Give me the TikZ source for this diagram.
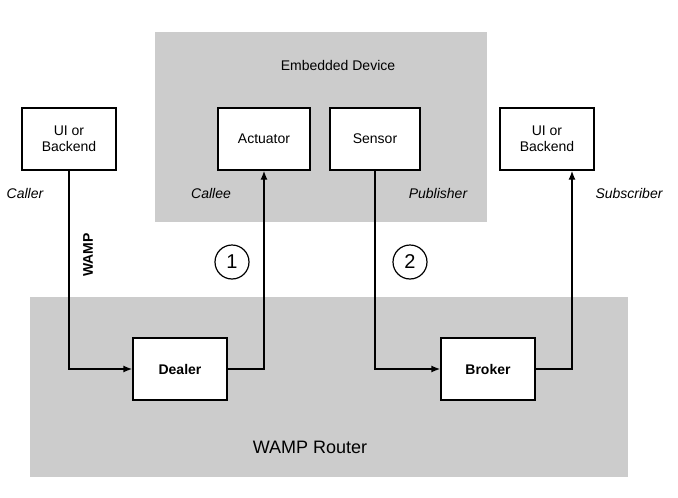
\documentclass[tikz,border=0pt]{standalone}
\usepackage{fontspec}
\setmainfont{Liberation Sans}
\usetikzlibrary{arrows.meta}
\begin{document}
\begin{tikzpicture}[x=1pt,y=-1pt,
 box/.style={draw=black,line width=1.4pt,fill=white,minimum width=94pt,minimum height=62pt,inner sep=0pt,align=center,font=\fontsize{14}{16}\selectfont},
 area/.style={fill=black!20,draw=none},
 role/.style={font=\itshape\fontsize{14}{16}\selectfont},
 num/.style={draw=black,line width=1.2pt,circle,minimum size=34pt,inner sep=0pt,font=\fontsize{20}{22}\selectfont},
 conn/.style={line width=1.4pt,-{Latex[length=9pt,width=7pt]}}]
\useasboundingbox (0,0) rectangle (678,498);
\fill[area] (155,32) rectangle (487,222);
\fill[area] (30,297) rectangle (628,477);
\node[font=\fontsize{14}{16}\selectfont] (ed) at (338,65) {Embedded Device};
\node[font=\fontsize{18}{20}\selectfont] (wr) at (310,447) {WAMP Router};
\node[box] (ui1) at (69,139) {UI or\\Backend};
\node[box] (ui2) at (547,139) {UI or\\Backend};
\node[box,minimum width=92pt] (act) at (264,139) {Actuator};
\node[box,minimum width=90pt] (sen) at (375,139) {Sensor};
\node[box,font=\bfseries\fontsize{14}{16}\selectfont] (dea) at (180,369) {Dealer};
\node[box,font=\bfseries\fontsize{14}{16}\selectfont] (bro) at (488,369) {Broker};
\node[role] (caller) at (25,193) {Caller};
\node[role] (callee) at (211,193) {Callee};
\node[role] (pub) at (438,193) {Publisher};
\node[role] (sub) at (629,193) {Subscriber};
\node[rotate=90,font=\bfseries\fontsize{14}{16}\selectfont] (wamp) at (88,255) {WAMP};
\node[num] (n1) at (232,262) {1};
\node[num] (n2) at (410,262) {2};
\draw[conn] (ui1.south) |- (dea.west);
\draw[conn] (dea.east) -| (act.south);
\draw[conn] (sen.south) |- (bro.west);
\draw[conn] (bro.east) -| ([xshift=25pt]ui2.south);
\end{tikzpicture}
\end{document}
